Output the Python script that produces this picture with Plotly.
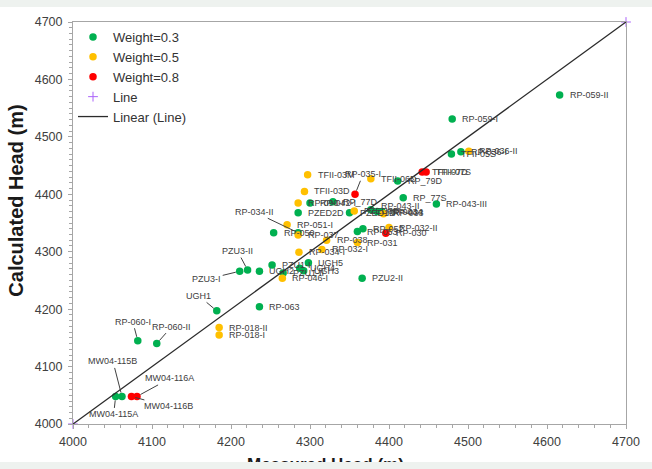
import plotly.graph_objects as go

# ---- observation wells grouped by calibration weight: measured vs calculated head (m) ----
w03_names = ["RP-059-II", "RP-059-I", "TFII-05S", "RP-036-I", "RP_79D", "RP_77S", "RP-043-III",
             "RP-042-I", "RP_77D", "PZED2D", "PZED1D", "RP-043-II", "RP-043-I", "RP-044",
             "RP-050", "RP-034-II", "RP-053", "RP-052", "PZU3-I", "PZU3-II", "UGH2", "PZU1-I",
             "PZU1-II", "UGH4", "UGH3", "UGH5", "RP-063", "PZU2-II", "UGH1", "RP-060-I",
             "RP-060-II", "MW04-115A", "MW04-115B"]
w03_measured = [4616, 4480, 4479, 4491, 4411, 4418, 4460,
                4300, 4329, 4285, 4350, 4377, 4385, 4391,
                4254, 4285, 4360, 4367, 4211, 4221, 4236, 4252,
                4266, 4287, 4292, 4298, 4236, 4366, 4182, 4082,
                4106, 4054, 4062]
w03_calculated = [4573, 4531, 4470, 4474, 4423, 4394, 4383,
                  4385, 4387, 4368, 4368, 4373, 4370, 4370,
                  4333, 4333, 4335, 4340, 4266, 4268, 4266, 4277,
                  4263, 4271, 4267, 4281, 4204, 4254, 4197, 4145,
                  4140, 4048, 4048]

w05_names = ["RP-036-II", "TFII-03M", "TFII-03D", "TFII-06D", "RP-090-I", "PZED3D", "RP-033",
             "RP-051-I", "RP-037", "RP-032-II", "RP-038", "RP-031", "RP-034-I", "RP-032-I",
             "RP-046-I", "RP-018-II", "RP-018-I"]
w05_measured = [4501, 4297, 4293, 4377, 4285, 4356, 4393,
                4271, 4285, 4400, 4321, 4360, 4286, 4315,
                4265, 4185, 4185]
w05_calculated = [4475, 4434, 4405, 4427, 4385, 4371, 4366,
                  4347, 4329, 4342, 4320, 4316, 4299, 4304,
                  4254, 4168, 4155]

w08_names = ["TFII-07D", "TFII-07S", "RP-035-I", "RP-030", "MW04-116B", "MW04-116A"]
w08_measured = [4442, 4447, 4357, 4396, 4074, 4081]
w08_calculated = [4439, 4439, 4400, 4332, 4048, 4048]

# 1:1 reference line
line_x = [4000, 4700]
line_y = [4000, 4700]

axis_range = [4000, 4700]

# ---- label placement (screen px) ----
# leader-line labels: offset of the label centre from its point
LEADER = {
    "RP-034-II": (-44, -21), "PZU3-I": (-33, 8), "PZU3-II": (-10, -19), "UGH1": (-18, -15),
    "RP-060-I": (-5, -19), "RP-060-II": (15, -17), "MW04-115B": (-9, -35),
    "MW04-115A": (-2, 18), "MW04-116A": (33, -18), "MW04-116B": (37, 10), "RP-035-I": (8, -20),
}
# plain labels sit to the right of the point; a few are nudged (dx, dy)
NUDGE = {"RP-043-II": (0, 4), "RP-033": (0, 1)}

FONT = "Liberation Sans, Arial, sans-serif"
GREEN, YELLOW, RED = "#00b050", "#ffc000", "#ff0000"

fig = go.Figure()
for name, xs, ys, color in [("Weight=0.3", w03_measured, w03_calculated, GREEN),
                            ("Weight=0.5", w05_measured, w05_calculated, YELLOW),
                            ("Weight=0.8", w08_measured, w08_calculated, RED)]:
    fig.add_trace(go.Scatter(x=xs, y=ys, mode="markers", name=name,
                             marker=dict(color=color, size=7.5, line=dict(width=0))))

fig.add_trace(go.Scatter(x=line_x, y=line_y, mode="markers", name="Line", cliponaxis=False,
                         marker=dict(symbol="cross-thin-open", size=7,
                                     line=dict(color="#9fb6e3", width=1))))
fig.add_trace(go.Scatter(x=line_x, y=line_y, mode="lines", name="Linear (Line)",
                         line=dict(color="#2b2b2b", width=1.3)))

annotations = []
for names, xs, ys in [(w03_names, w03_measured, w03_calculated),
                      (w05_names, w05_measured, w05_calculated),
                      (w08_names, w08_measured, w08_calculated)]:
    for n, x, y in zip(names, xs, ys):
        base = dict(x=x, y=y, xref="x", yref="y", text=n,
                    font=dict(family=FONT, size=9, color="#404040"))
        if n in LEADER:
            ax, ay = LEADER[n]
            annotations.append(dict(base, showarrow=True, ax=ax, ay=ay, arrowhead=0,
                                    arrowwidth=1, arrowcolor="#404040", standoff=4))
        else:
            dx, dy = NUDGE.get(n, (0, 0))
            annotations.append(dict(base, showarrow=False, xanchor="left", yanchor="middle",
                                    xshift=8 + dx, yshift=dy))

# axis titles
annotations.append(dict(text="<b>Calculated Head (m)</b>", xref="paper", yref="paper",
                        x=-0.1037, y=0.5547, textangle=-90, showarrow=False,
                        xanchor="center", yanchor="middle",
                        font=dict(family=FONT, size=20, color="#1a1a1a")))
annotations.append(dict(text="<b>Measured Head (m)</b>", xref="paper", yref="paper",
                        x=0.4566, y=-0.072, showarrow=False, xanchor="center", yanchor="top",
                        font=dict(family=FONT, size=17, color="#1a1a1a")))

axis_common = dict(range=axis_range, dtick=100, showgrid=False, zeroline=False,
                   showline=True, linecolor="#a6a6a6", linewidth=1, mirror=True,
                   ticks="outside", ticklen=4, tickcolor="#a6a6a6",
                   tickfont=dict(family=FONT, size=12.5, color="#404040"))

fig.update_layout(
    width=652, height=462,
    margin=dict(l=73, r=15, t=22, b=38),
    paper_bgcolor="#eef2ef", plot_bgcolor="white",
    showlegend=True,
    legend=dict(x=0.0, y=1.0, xanchor="left", yanchor="top", bgcolor="rgba(0,0,0,0)",
                font=dict(family=FONT, size=13, color="#333333"), borderwidth=0),
    xaxis=dict(axis_common, minor=dict(dtick=20, ticks="outside", ticklen=3,
                                       tickcolor="#a6a6a6"), ticklabelstandoff=2),
    yaxis=dict(axis_common, minor=dict(dtick=10, ticks="outside", ticklen=3,
                                       tickcolor="#a6a6a6"), ticklabelstandoff=3),
    annotations=annotations,
    shapes=[dict(type="rect", xref="paper", yref="paper", layer="below",
                 x0=-0.2, x1=1.1, y0=-0.2, y1=1.0373,
                 fillcolor="white", line=dict(width=0))],
)

fig.write_html("out.html",
               post_script="document.body.style.margin='0';"
                           "document.body.style.background='#eef2ef';")
